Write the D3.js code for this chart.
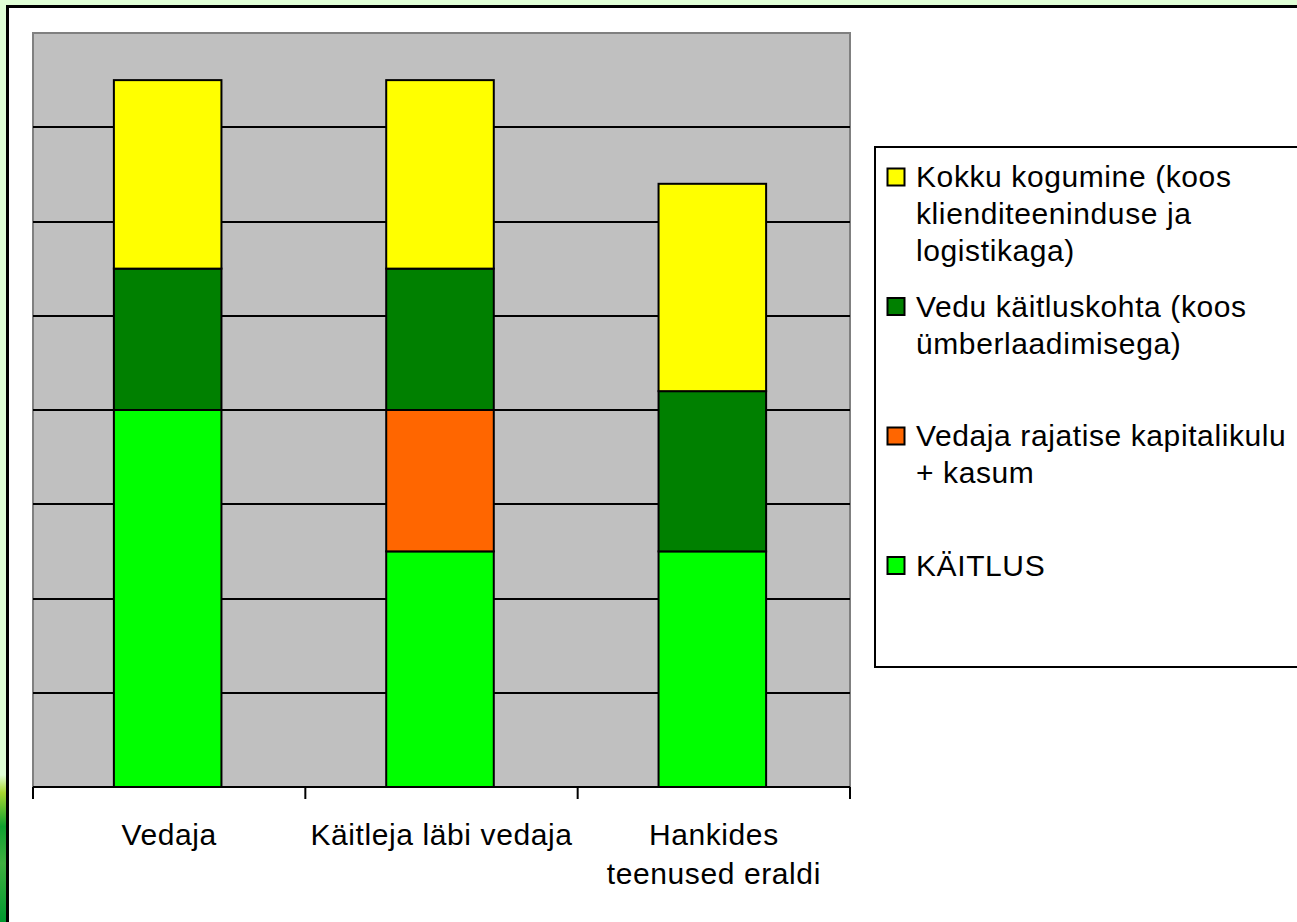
<!DOCTYPE html>
<html><head><meta charset="utf-8">
<script src="https://cdn.jsdelivr.net/npm/d3@7"></script>
<style>html,body{margin:0;padding:0;background:#e0ffd6;overflow:hidden}</style>
</head><body>
<svg id="c" width="1297" height="922"></svg>
<script>
const categories = ["Vedaja", "Käitleja läbi vedaja", "Hankides teenused eraldi"];
const categoryLines = [["Vedaja"], ["Käitleja läbi vedaja"], ["Hankides", "teenused eraldi"]];
const seriesNames = ["KÄITLUS", "Vedaja rajatise kapitalikulu + kasum", "Vedu käitluskohta (koos ümberlaadimisega)", "Kokku kogumine (koos klienditeeninduse ja logistikaga)"];
const legendLines = [["KÄITLUS"], ["Vedaja rajatise kapitalikulu", "+ kasum"], ["Vedu käitluskohta (koos", "ümberlaadimisega)"], ["Kokku kogumine (koos", "klienditeeninduse ja", "logistikaga)"]];
const seriesColors = ["#00ff00", "#ff6600", "#008000", "#ffff00"];
const kaitlus = [4.0, 2.5, 2.5];
const rajatis = [0, 1.5, 0];
const vedu = [1.5, 1.5, 1.7];
const kogumine = [2.0, 2.0, 2.2];
const yTicks = [1, 2, 3, 4, 5, 6, 7];

(function () {
const svg = d3.select("#c");
const font = "'Liberation Sans', Arial, sans-serif";
const fs = 30, ls = 0.6;

const defs = svg.append("defs");
const lg = defs.append("linearGradient").attr("id", "tex").attr("x1", 0).attr("y1", 0).attr("x2", 0).attr("y2", 1);
lg.append("stop").attr("offset", "0").attr("stop-color", "#e0ffd6");
lg.append("stop").attr("offset", "0.12").attr("stop-color", "#a8d830");
lg.append("stop").attr("offset", "0.35").attr("stop-color", "#10a030");
lg.append("stop").attr("offset", "0.6").attr("stop-color", "#40b040");
lg.append("stop").attr("offset", "1").attr("stop-color", "#009a30");
svg.append("rect").attr("x", 0).attr("y", 775).attr("width", 7).attr("height", 147).attr("fill", "url(#tex)");

svg.append("rect").attr("x", 7.5).attr("y", 6.5).attr("width", 1400).attr("height", 1000)
  .attr("fill", "#fff").attr("stroke", "#000").attr("stroke-width", 3);

const pLeft = 33, pRight = 850, pTop = 33, pBottom = 787;
const x = d3.scaleBand().domain(categories).range([pLeft, pRight]).padding(0);
const y = d3.scaleLinear().domain([0, 8]).range([pBottom, pTop]);

svg.append("rect").attr("x", pLeft).attr("y", pTop).attr("width", pRight - pLeft).attr("height", pBottom - pTop)
  .attr("fill", "#c0c0c0").attr("stroke", "#808080").attr("stroke-width", 2);

svg.append("g").selectAll("line").data(yTicks).join("line")
  .attr("x1", pLeft).attr("x2", pRight).attr("y1", d => Math.round(y(d))).attr("y2", d => Math.round(y(d)))
  .attr("stroke", "#000").attr("stroke-width", 2);

const table = categories.map((c, i) => ({cat: c, s0: kaitlus[i], s1: rajatis[i], s2: vedu[i], s3: kogumine[i]}));
const stack = d3.stack().keys(["s0", "s1", "s2", "s3"])(table);
const barW = x.bandwidth() * 0.395;
stack.forEach((layer, li) => {
  svg.append("g").selectAll("rect").data(layer.filter(d => d[1] - d[0] > 0)).join("rect")
    .attr("x", d => x(d.data.cat) + x.bandwidth() / 2 - barW / 2 - 1.5)
    .attr("width", barW)
    .attr("y", d => y(d[1]))
    .attr("height", d => y(d[0]) - y(d[1]))
    .attr("fill", seriesColors[li]).attr("stroke", "#000").attr("stroke-width", 2);
});

svg.append("line").attr("x1", pLeft).attr("x2", pRight).attr("y1", pBottom).attr("y2", pBottom)
  .attr("stroke", "#000").attr("stroke-width", 2);
const tickXs = categories.map(c => x(c)).concat([pRight]);
svg.append("g").selectAll("line").data(tickXs).join("line")
  .attr("x1", d => d).attr("x2", d => d).attr("y1", pBottom).attr("y2", pBottom + 12)
  .attr("stroke", "#000").attr("stroke-width", 2);

categories.forEach((c, i) => {
  const t = svg.append("text").attr("x", x(c) + x.bandwidth() / 2).attr("y", 845)
    .attr("text-anchor", "middle").attr("font-family", font).attr("font-size", fs)
    .attr("letter-spacing", ls).attr("fill", "#000");
  categoryLines[i].forEach((ln, j) => {
    t.append("tspan").attr("x", x(c) + x.bandwidth() / 2).attr("dy", j === 0 ? 0 : 39).text(ln);
  });
});

svg.append("rect").attr("x", 875).attr("y", 147).attr("width", 600).attr("height", 520)
  .attr("fill", "#fff").attr("stroke", "#000").attr("stroke-width", 2);
const legendOrder = [3, 2, 1, 0];
legendOrder.forEach((si, k) => {
  const base = 187 + k * 129.5;
  svg.append("rect").attr("x", 887.5).attr("y", base - 18.5).attr("width", 17).attr("height", 17)
    .attr("fill", seriesColors[si]).attr("stroke", "#000").attr("stroke-width", 2);
  const t = svg.append("text").attr("x", 916).attr("y", base)
    .attr("font-family", font).attr("font-size", fs).attr("letter-spacing", ls).attr("fill", "#000");
  legendLines[si].forEach((ln, j) => {
    t.append("tspan").attr("x", 916).attr("dy", j === 0 ? 0 : 37).text(ln);
  });
});
})();
</script>
</body></html>
